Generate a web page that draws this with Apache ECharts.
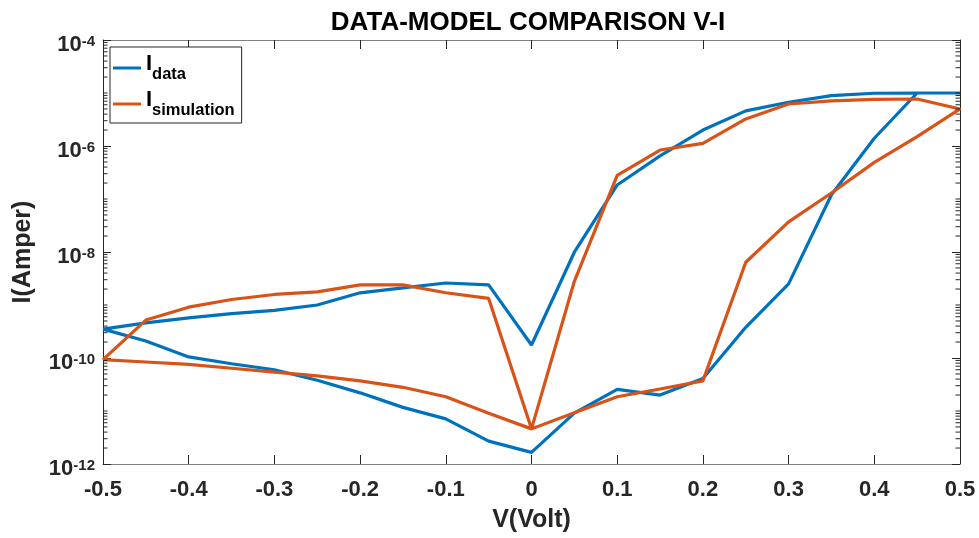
<!DOCTYPE html>
<html>
<head>
<meta charset="utf-8">
<script src="https://cdn.jsdelivr.net/npm/echarts@6/dist/echarts.min.js"></script>
<style>
html,body{margin:0;padding:0;background:#fff;}
#chart{width:979px;height:538px;}
</style>
</head>
<body>
<div id="chart"></div>
<script>
// Voltage sweep (forward then reverse)
const voltage = [-0.5,-0.45,-0.4,-0.35,-0.3,-0.25,-0.2,-0.15,-0.1,-0.05,0,0.05,0.1,0.15,0.2,0.25,0.3,0.35,0.4,0.45,0.5,
                 0.45,0.4,0.35,0.3,0.25,0.2,0.15,0.1,0.05,0,-0.05,-0.1,-0.15,-0.2,-0.25,-0.3,-0.35,-0.4,-0.45,-0.5];
const iData = [3.5e-10,4.6e-10,5.7e-10,6.9e-10,7.9e-10,1.0e-9,1.7e-9,2.1e-9,2.6e-9,2.4e-9,1.76e-10,9.9e-9,1.84e-7,6.5e-7,2.0e-6,4.6e-6,6.7e-6,8.9e-6,9.9e-6,1.0e-5,1.0e-5,
               1.0e-5,1.4e-6,1.2e-7,2.5e-9,3.8e-10,4.1e-11,2.0e-11,2.55e-11,9.1e-12,1.66e-12,2.7e-12,7.1e-12,1.17e-11,2.2e-11,3.8e-11,6.0e-11,7.8e-11,1.05e-10,2.1e-10,3.5e-10];
const iSim = [9.3e-11,5.2e-10,9.1e-10,1.27e-9,1.58e-9,1.77e-9,2.4e-9,2.4e-9,1.7e-9,1.33e-9,4.6e-12,2.8e-9,2.8e-7,8.4e-7,1.12e-6,3.24e-6,6.2e-6,7.1e-6,7.6e-6,7.7e-6,5.0e-6,
              1.5e-6,4.9e-7,1.3e-7,3.7e-8,6.4e-9,3.7e-11,2.6e-11,1.86e-11,9.3e-12,4.6e-12,9.1e-12,1.86e-11,2.8e-11,3.7e-11,4.6e-11,5.4e-11,6.4e-11,7.6e-11,8.4e-11,9.3e-11];
const seriesNames = ['data','simulation'];
const titleText = 'DATA-MODEL COMPARISON V-I';
const xName = 'V(Volt)';
const yName = 'I(Amper)';

// minor tick values for log axis (2..9 x 10^n and odd decades)
const minorVals = [];
for (let n = -12; n < -4; n++) {
  for (let k = 1; k <= 9; k++) {
    if (k === 1 && n % 2 === 0) continue;
    minorVals.push([0, k * Math.pow(10, n)]);
  }
}

const chart = echarts.init(document.getElementById('chart'), null, {renderer:'canvas'});
const FONT = '"Liberation Sans", Arial, Helvetica, sans-serif';
const AX = '#262626';

const xLabelFmt = v => { const r = Math.round(v*10)/10; return r === 0 ? '0' : String(r); };
const yLabelFmt = v => '{b|10}{s|' + Math.round(Math.log10(v)) + '}';

chart.setOption({
  animation:false,
  backgroundColor:'#fff',
  title:{
    text:titleText, left:523, top:5, textAlign:'center',
    textStyle:{fontFamily:FONT, fontWeight:'bold', fontSize:26, color:'#000'}
  },
  grid:{left:103, right:19, top:40, bottom:70, containLabel:false},
  legend:{
    data:seriesNames, orient:'vertical', left:110, top:47,
    icon:'rect', itemWidth:28, itemHeight:3, itemGap:6,
    padding:[6,7,4,3],
    backgroundColor:'#fff', borderColor:'#262626', borderWidth:1,
    formatter: name => '{I|I}{sub|' + name + '}',
    textStyle:{
      fontFamily:FONT, color:'#000',
      rich:{
        I:{fontFamily:FONT, fontWeight:'bold', fontSize:22, color:'#000', lineHeight:30, verticalAlign:'top'},
        sub:{fontFamily:FONT, fontWeight:'bold', fontSize:16.5, color:'#000', lineHeight:30, verticalAlign:'bottom'}
      }
    }
  },
  xAxis:[{
    type:'value', min:-0.5, max:0.5, interval:0.1, position:'bottom',
    name:xName, nameLocation:'middle', nameGap:44,
    nameTextStyle:{fontFamily:FONT, fontWeight:'bold', fontSize:25, color:AX},
    axisLine:{onZero:false, lineStyle:{color:'#808080', width:1}},
    axisTick:{inside:true, length:9, lineStyle:{color:AX}},
    axisLabel:{formatter:xLabelFmt, margin:15, fontFamily:FONT, fontWeight:'bold', fontSize:22, color:AX},
    splitLine:{show:false}
  },{
    type:'value', min:-0.5, max:0.5, interval:0.1, position:'top',
    axisLine:{onZero:false, lineStyle:{color:'#808080', width:1}},
    axisTick:{inside:true, length:9, lineStyle:{color:AX}},
    axisLabel:{show:false}, splitLine:{show:false}
  }],
  yAxis:[{
    type:'log', logBase:10, min:1e-12, max:1e-4, interval:2, position:'left',
    name:yName, nameLocation:'middle', nameGap:67, nameRotate:90,
    nameTextStyle:{fontFamily:FONT, fontWeight:'bold', fontSize:25, color:AX},
    axisLine:{onZero:false, lineStyle:{color:AX, width:1}},
    axisTick:{inside:true, length:8, lineStyle:{color:AX}},
    axisLabel:{
      formatter:yLabelFmt, margin:8, color:AX, padding:[10,0,0,0],
      rich:{
        b:{fontFamily:FONT, fontWeight:'bold', fontSize:22, color:AX, lineHeight:22, padding:[3.5,0,0,0], verticalAlign:'bottom'},
        s:{fontFamily:FONT, fontWeight:'bold', fontSize:15, color:AX, lineHeight:15, verticalAlign:'top'}
      }
    },
    splitLine:{show:false}
  },{
    type:'log', logBase:10, min:1e-12, max:1e-4, interval:2, position:'right',
    axisLine:{onZero:false, lineStyle:{color:AX, width:1}},
    axisTick:{inside:true, length:8, lineStyle:{color:AX}},
    axisLabel:{show:false}, splitLine:{show:false}
  }],
  series:[
    {
      name:seriesNames[0], type:'line', xAxisIndex:0, yAxisIndex:0,
      data: voltage.map((v,i)=>[v, iData[i]]),
      showSymbol:false, symbol:'none',
      lineStyle:{color:'#0072BD', width:3.2}, itemStyle:{color:'#0072BD'},
      z:3
    },
    {
      name:seriesNames[1], type:'line', xAxisIndex:0, yAxisIndex:0,
      data: voltage.map((v,i)=>[v, iSim[i]]),
      showSymbol:false, symbol:'none',
      lineStyle:{color:'#D95319', width:3.2}, itemStyle:{color:'#D95319'},
      z:4
    },
    {
      name:'minorTicks', type:'custom', xAxisIndex:0, yAxisIndex:0,
      data:minorVals, silent:true, clip:false, z:5,
      renderItem:(params, api) => {
        const v = api.value(1);
        const L = api.coord([-0.5, v]);
        const R = api.coord([0.5, v]);
        return {type:'group', children:[
          {type:'line', shape:{x1:L[0], y1:L[1], x2:L[0]+4.5, y2:L[1]}, style:{stroke:AX, lineWidth:1}},
          {type:'line', shape:{x1:R[0], y1:R[1], x2:R[0]-4.5, y2:R[1]}, style:{stroke:AX, lineWidth:1}}
        ]};
      }
    }
  ]
});
</script>
</body>
</html>
